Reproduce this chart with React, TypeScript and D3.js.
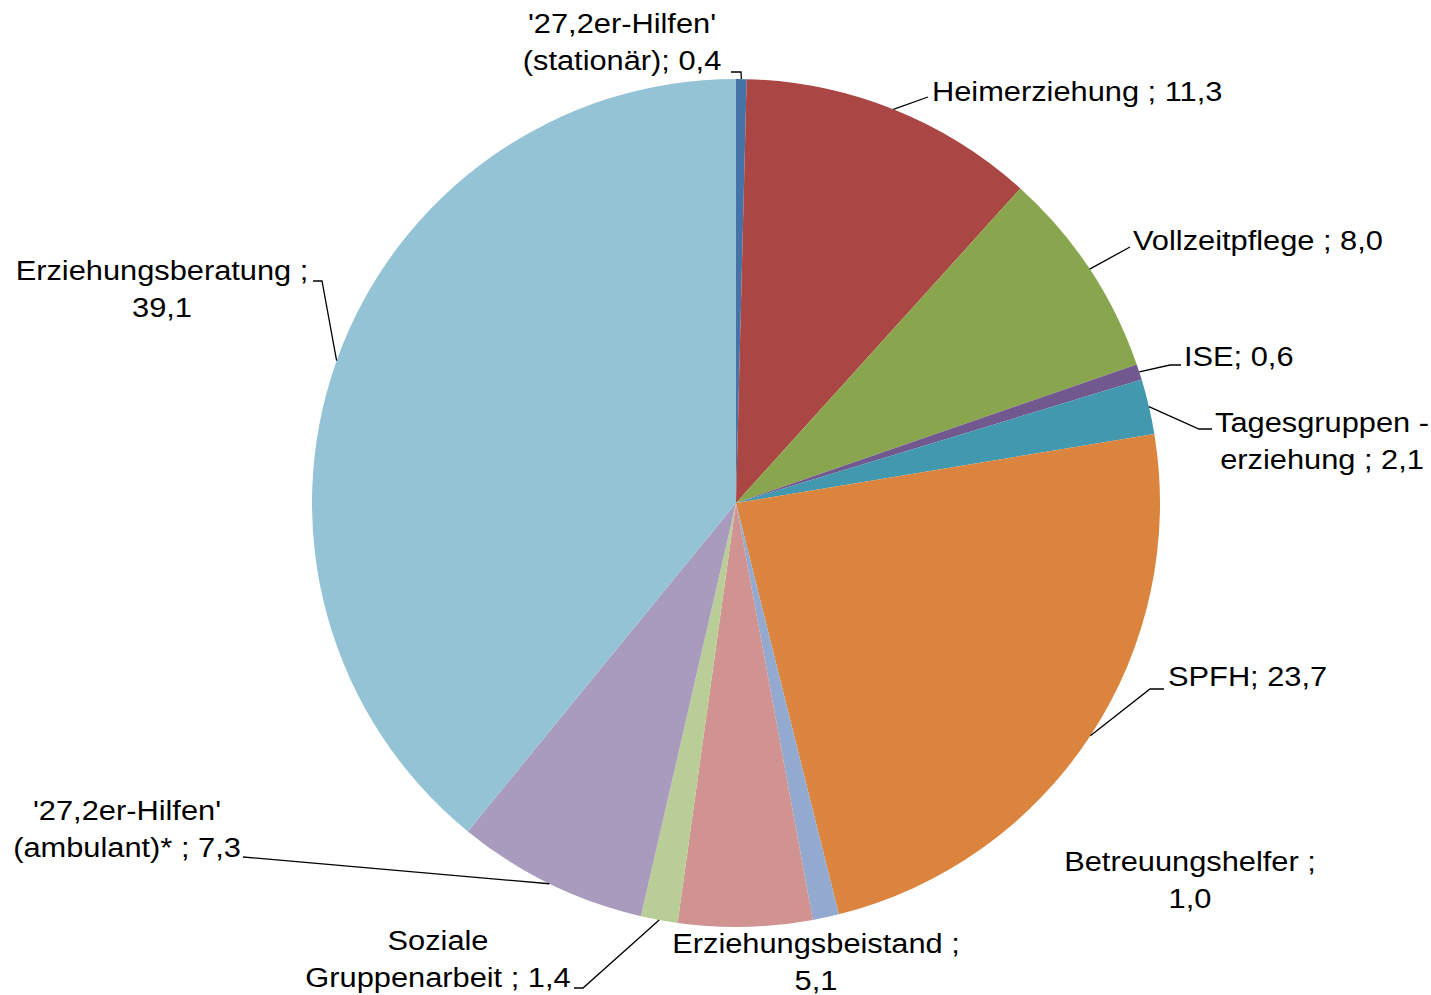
import React from "react";
import * as d3 from "d3";

const categories = [
  "'27,2er-Hilfen' (stationär)",
  "Heimerziehung",
  "Vollzeitpflege",
  "ISE",
  "Tagesgruppenerziehung",
  "SPFH",
  "Betreuungshelfer",
  "Erziehungsbeistand",
  "Soziale Gruppenarbeit",
  "'27,2er-Hilfen' (ambulant)*",
  "Erziehungsberatung",
];
const values = [0.4, 11.3, 8.0, 0.6, 2.1, 23.7, 1.0, 5.1, 1.4, 7.3, 39.1];
const colors = [
  "#4572A7", "#AA4643", "#89A54E", "#71588F", "#4198AF", "#DB843D",
  "#93A9CF", "#D19392", "#B9CD96", "#A99BBD", "#93C3D4",
];
// label text lines (value appended)
const labelLines: string[][] = [
  ["'27,2er-Hilfen'", "(stationär); 0,4"],
  ["Heimerziehung ; 11,3"],
  ["Vollzeitpflege ; 8,0"],
  ["ISE; 0,6"],
  ["Tagesgruppen -", "erziehung ; 2,1"],
  ["SPFH; 23,7"],
  ["Betreuungshelfer ;", "1,0"],
  ["Erziehungsbeistand ;", "5,1"],
  ["Soziale", "Gruppenarbeit ; 1,4"],
  ["'27,2er-Hilfen'", "(ambulant)* ; 7,3"],
  ["Erziehungsberatung ;", "39,1"],
];

// layout: label position (x, first baseline y, anchor) and leader elbow
type Lay = { x: number; y: number; anchor: string; leader?: number[][] };
const layout: Lay[] = [
  { x: 622, y: 33, anchor: "middle", leader: [[731, 72], [741, 72]] },
  { x: 932, y: 101, anchor: "start", leader: [[928, 97]] },
  { x: 1133, y: 250, anchor: "start", leader: [[1130, 247]] },
  { x: 1184, y: 366, anchor: "start", leader: [[1181, 365], [1170, 365]] },
  { x: 1322, y: 432, anchor: "middle", leader: [[1212, 429], [1199, 429]] },
  { x: 1168, y: 686, anchor: "start", leader: [[1164, 689], [1150, 689]] },
  { x: 1190, y: 871, anchor: "middle" },
  { x: 816, y: 953, anchor: "middle" },
  { x: 438, y: 950, anchor: "middle", leader: [[574, 988], [583, 988]] },
  { x: 127, y: 820, anchor: "middle", leader: [[243, 857]] },
  { x: 162, y: 280, anchor: "middle", leader: [[313, 281], [322, 281]] },
];

const cx = 736;
const cy = 503;
const R = 424;

export default function App() {
  const pie = d3.pie<number>().sort(null).startAngle(0).endAngle(2 * Math.PI);
  const arcs = pie(values);
  const arc = d3.arc<d3.PieArcDatum<number>>().innerRadius(0).outerRadius(R);
  const lineH = 37;

  return (
    <svg width={1431} height={995} style={{ position: "absolute", left: 0, top: 0 }}
      fontFamily="'Liberation Sans', Arial, sans-serif">
      <rect width={1431} height={995} fill="#fff" />
      <g transform={`translate(${cx},${cy})`}>
        {arcs.map((a, i) => (
          <path key={categories[i]} d={arc(a) || ""} fill={colors[i]} />
        ))}
      </g>
      {arcs.map((a, i) => {
        const L = layout[i];
        if (!L.leader) return null;
        const mid = (a.startAngle + a.endAngle) / 2;
        const px = cx + Math.sin(mid) * R;
        const py = cy - Math.cos(mid) * R;
        const pts = [...L.leader, [px, py]];
        return (
          <path key={"l" + i} d={d3.line()(pts as [number, number][]) || ""}
            fill="none" stroke="#000" strokeWidth={1.3} />
        );
      })}
      {labelLines.map((lines, i) => {
        const L = layout[i];
        return (
          <text key={"t" + i} transform={`translate(${L.x},${L.y}) scale(1.1,1)`}
            textAnchor={L.anchor} fontSize={28} fill="#000">
            {lines.map((ln, j) => (
              <tspan key={j} x={0} y={j * lineH}>{ln}</tspan>
            ))}
          </text>
        );
      })}
    </svg>
  );
}
